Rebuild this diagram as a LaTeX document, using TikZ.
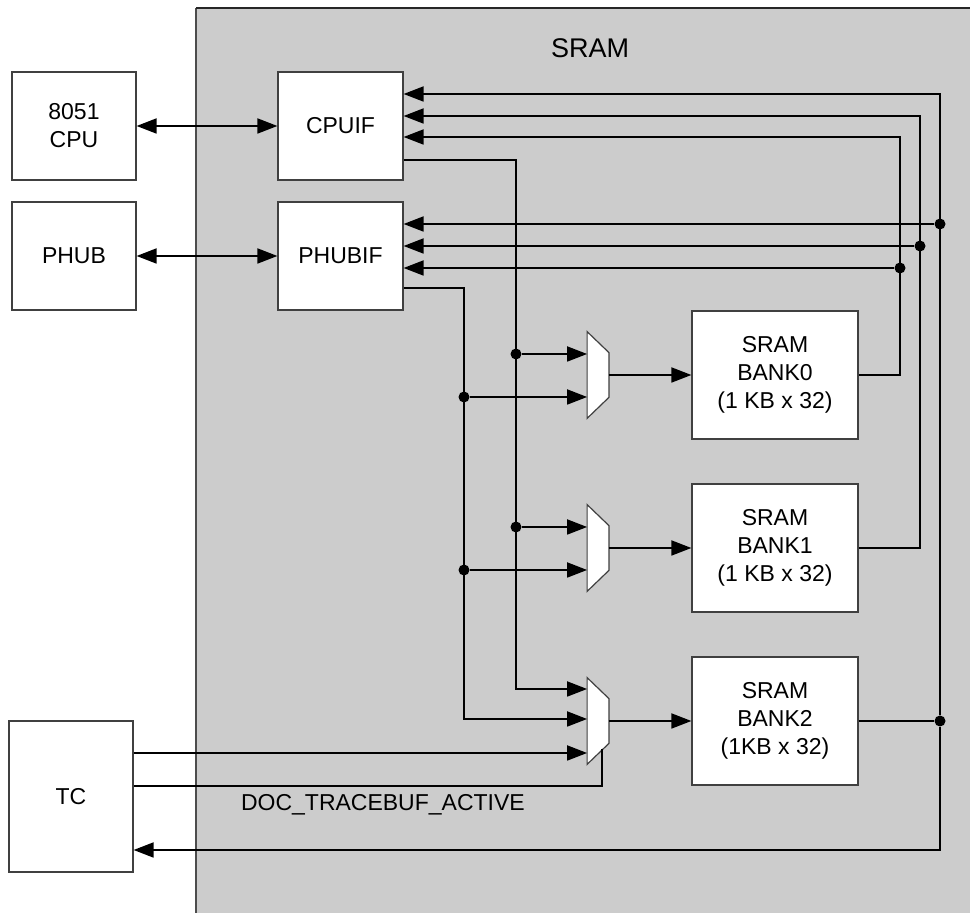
\documentclass[tikz,border=0pt]{standalone}
\usepackage{fontspec}
\setmainfont{Liberation Sans}
\usetikzlibrary{arrows.meta,positioning,calc}
\definecolor{sramgray}{HTML}{CCCCCC}
\definecolor{edge}{HTML}{404040}
\tikzset{
  block/.style={draw=edge,fill=white,line width=0.6pt,align=center,inner sep=0pt,
    minimum width=62pt,minimum height=54pt,font=\fontsize{11.5}{14}\selectfont},
  bank/.style={block,minimum width=83pt,minimum height=64pt},
  muxbox/.style={inner sep=0pt,minimum width=10.5pt,minimum height=43pt},
  wire/.style={draw=black,line width=0.9pt},
  arrow/.style={wire,-{Triangle[length=10pt,width=7.5pt]}},
  biarrow/.style={wire,{Triangle[length=10pt,width=7.5pt]}-{Triangle[length=10pt,width=7.5pt]}},
  dot/.style={circle,fill=black,inner sep=0pt,minimum size=5.5pt}
}
\begin{document}
\begin{tikzpicture}[x=0.5pt,y=-0.5pt]
  \useasboundingbox (0,0) rectangle (970,913);
  % SRAM region
  \fill[sramgray] (196,8) rectangle (970,913);
  \draw[gray!60!black,line width=0.6pt] (196,913) -- (196,8);
  \draw[black!85,line width=0.8pt] (196,8) -- (970,8);
  \node[font=\fontsize{13.5}{16}\selectfont] (title) at (590,48) {SRAM};

  % blocks
  \node[block] (cpu) at (74,126) {8051\\CPU};
  \node[block,minimum width=62.5pt] (cpuif) at (340.5,126) {CPUIF};
  \node[block] (phub) at (74,256) {PHUB};
  \node[block,minimum width=62.5pt] (phubif) at (340.5,256) {PHUBIF};
  \node[block,minimum height=75.5pt] (tc) at (71,796.5) {TC};
  \node[bank] (bank0) at (775,375) {SRAM\\BANK0\\(1 KB x 32)};
  \node[bank] (bank1) at (775,548) {SRAM\\BANK1\\(1 KB x 32)};
  \node[bank] (bank2) at (775,721) {SRAM\\BANK2\\(1KB x 32)};

  % muxes
  \node[muxbox] (mux0) at (598,375) {};
  \node[muxbox] (mux1) at (598,548) {};
  \node[muxbox] (mux2) at (598,721) {};
  \foreach \m in {mux0,mux1,mux2}
    \draw[draw=edge,fill=white,line width=0.6pt] (\m.north west) -- ($(\m.north east)+(0,21)$)
      -- ($(\m.south east)+(0,-21)$) -- (\m.south west) -- cycle;

  % junctions
  \node[dot] (c0) at (516,354) {};
  \node[dot] (c1) at (516,527) {};
  \node[dot] (p0) at (464,397) {};
  \node[dot] (p1) at (464,570) {};
  \node[dot] (j0) at (900,268) {};
  \node[dot] (j1) at (920,246) {};
  \node[dot] (j2) at (940,224) {};
  \node[dot] (b2) at (940,721) {};
  \coordinate (c2) at (516,689);
  \coordinate (p2) at (464,719);
  \coordinate (t0) at (900,137);
  \coordinate (t1) at (920,116);
  \coordinate (t2) at (940,94);
  \coordinate (back) at (940,850);
  \coordinate (sel) at (602,749);

  % host links
  \draw[biarrow] (cpu) -- (cpuif);
  \draw[biarrow] (phub) -- (phubif);

  % write paths
  \draw[arrow] (cpuif.east |- 0,160) -| (c2) -- (mux2.west |- c2);
  \draw[arrow] (c0) -- (mux0.west |- c0);
  \draw[arrow] (c1) -- (mux1.west |- c1);
  \draw[arrow] (phubif.east |- 0,288) -| (p2) -- (mux2.west |- p2);
  \draw[arrow] (p0) -- (mux0.west |- p0);
  \draw[arrow] (p1) -- (mux1.west |- p1);
  \draw[arrow] (tc.east |- 0,753) -- (mux2.west |- 0,753);
  \draw[wire] (tc.east |- 0,786) -| (sel);
  \node[anchor=west,font=\fontsize{11.5}{14}\selectfont] (active) at (234,805) {DOC\_TRACEBUF\_ACTIVE};
  \draw[arrow] (mux0.east) -- (bank0.west);
  \draw[arrow] (mux1.east) -- (bank1.west);
  \draw[arrow] (mux2.east) -- (bank2.west);

  % read paths
  \draw[arrow] (bank0.east) -| (t0) -- (cpuif.east |- t0);
  \draw[arrow] (bank1.east) -| (t1) -- (cpuif.east |- t1);
  \draw[wire] (bank2.east) -- (b2);
  \draw[arrow] (b2) -- (t2) -- (cpuif.east |- t2);
  \draw[arrow] (j0) -- (phubif.east |- j0);
  \draw[arrow] (j1) -- (phubif.east |- j1);
  \draw[arrow] (j2) -- (phubif.east |- j2);
  \draw[arrow] (b2) -- (back) -- (tc.east |- back);
\end{tikzpicture}
\end{document}
